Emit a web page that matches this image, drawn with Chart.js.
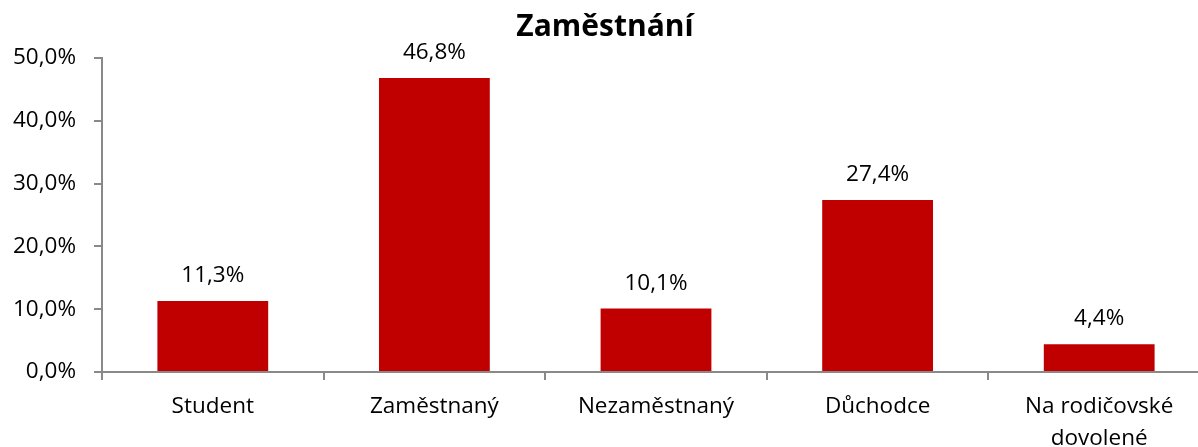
<!DOCTYPE html>
<html>
<head>
<meta charset="utf-8">
<script src="https://cdn.jsdelivr.net/npm/chart.js@4"></script>
<style>
  html, body { margin: 0; padding: 0; background: #fff; overflow: hidden; }
  #wrap { width: 1210px; height: 447px; }
</style>
</head>
<body>
<div id="wrap"><canvas id="c" width="1210" height="447"></canvas></div>
<script>
const categories = ["Student", "Zaměstnaný", "Nezaměstnaný", "Důchodce", ["Na rodičovské", "dovolené"]];
const values = [11.3, 46.8, 10.1, 27.4, 4.4];
const titleText = "Zaměstnání";
const yMax = 50;
const yStep = 10;

const fmt = v => v.toFixed(1).replace('.', ',') + '%';
const AXIS = '#898989';
const FONT = "'Open Sans', sans-serif";

const valueLabels = {
  id: 'valueLabels',
  afterDatasetsDraw(chart) {
    const ctx = chart.ctx;
    const meta = chart.getDatasetMeta(0);
    ctx.save();
    ctx.font = "22.5px " + FONT;
    ctx.fillStyle = '#000';
    ctx.textAlign = 'center';
    ctx.textBaseline = 'alphabetic';
    meta.data.forEach((bar, i) => {
      ctx.fillText(fmt(values[i]), bar.x, bar.y - 19);
    });
    ctx.restore();
  }
};

new Chart(document.getElementById('c'), {
  type: 'bar',
  data: {
    labels: categories,
    datasets: [{
      data: values,
      backgroundColor: '#C00000',
      borderWidth: 0,
      categoryPercentage: 1.0,
      barPercentage: 0.5
    }]
  },
  options: {
    responsive: false,
    animation: false,
    devicePixelRatio: 1,
    layout: { padding: 0 },
    plugins: {
      legend: { display: false },
      tooltip: { enabled: false },
      title: {
        display: true,
        text: titleText,
        color: '#000',
        font: { family: FONT, size: 30, weight: 'bold' },
        padding: { top: 9, bottom: 13 }
      }
    },
    scales: {
      x: {
        offset: true,
        grid: {
          offset: true,
          drawOnChartArea: false,
          drawTicks: true,
          tickLength: 8,
          lineWidth: 2,
          color: AXIS
        },
        border: { color: AXIS, width: 2 },
        ticks: {
          color: '#000',
          font: { family: FONT, size: 22.5, lineHeight: 1.45 },
          padding: 10,
          maxRotation: 0,
          autoSkip: false
        },
        afterFit(scale) { scale.height = 75; }
      },
      y: {
        min: 0,
        max: yMax,
        grid: {
          drawOnChartArea: false,
          drawTicks: true,
          tickLength: 8,
          lineWidth: 2,
          color: AXIS
        },
        border: { color: AXIS, width: 2 },
        ticks: {
          stepSize: yStep,
          color: '#000',
          font: { family: FONT, size: 22.5 },
          padding: 18,
          callback: v => fmt(v)
        },
        afterFit(scale) { scale.width = 102; }
      }
    }
  },
  plugins: [valueLabels]
});
</script>
</body>
</html>
